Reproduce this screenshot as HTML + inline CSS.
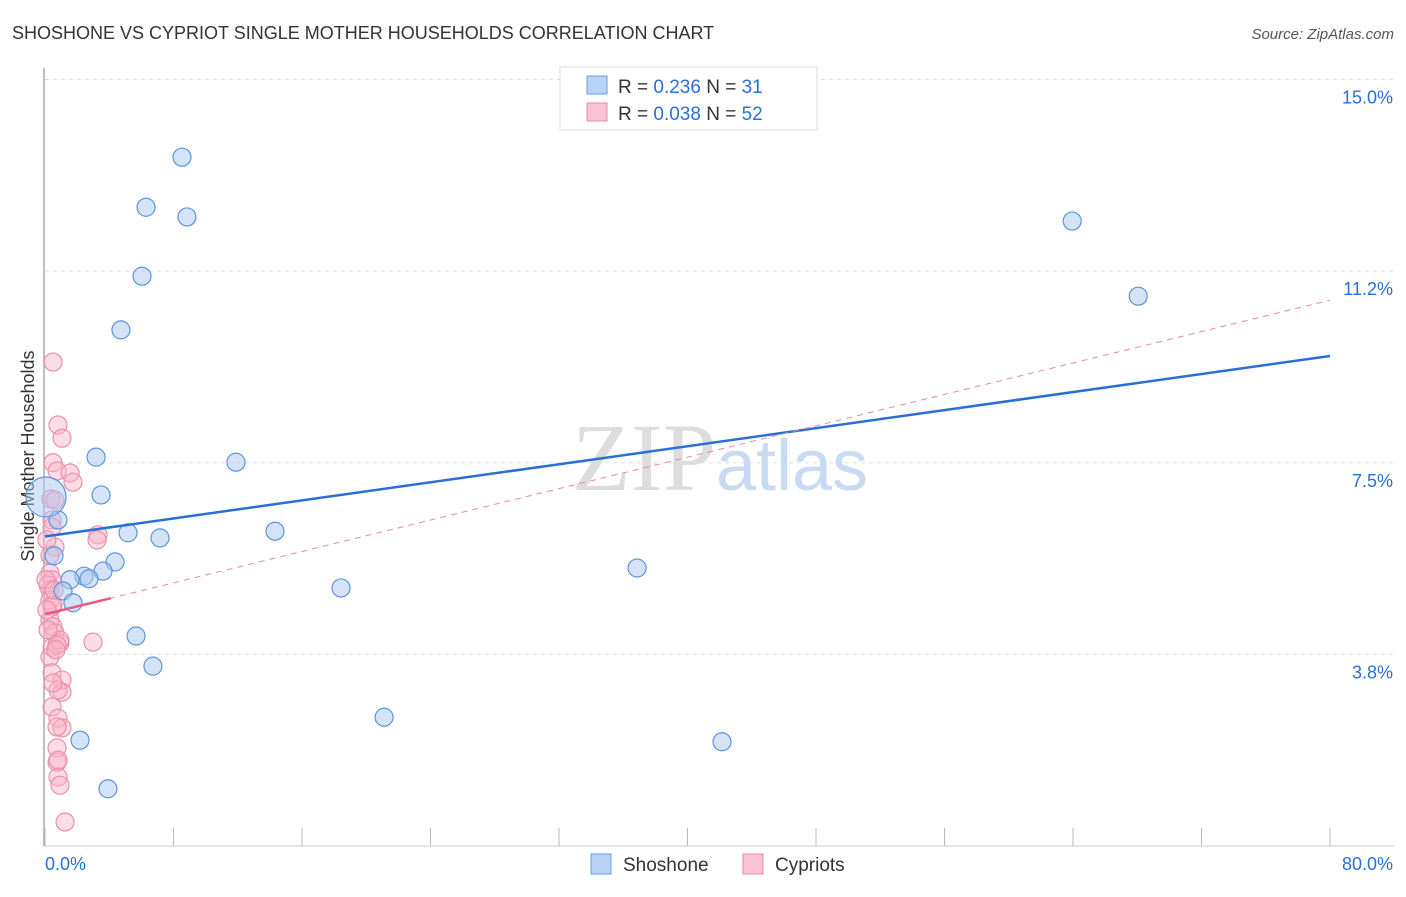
<!DOCTYPE html>
<html><head><meta charset="utf-8"><style>
body{margin:0;background:#fff;font-family:"Liberation Sans",sans-serif;}
</style></head><body>
<svg width="1406" height="892" xmlns="http://www.w3.org/2000/svg">
<text x="12" y="39" font-size="18" fill="#333">SHOSHONE VS CYPRIOT SINGLE MOTHER HOUSEHOLDS CORRELATION CHART</text>
<text x="1394" y="39" font-size="15" fill="#555" font-style="italic" text-anchor="end">Source: ZipAtlas.com</text>
<g id="grid"></g>
<g id="yticks"></g>
<g id="xticks"></g>
<text x="720" y="490" font-size="96" fill="#ddd" text-anchor="middle" font-family="Liberation Serif,serif">ZIP<tspan fill="#c9daf2" font-family="Liberation Sans,sans-serif" font-size="72">atlas</tspan></text>
<text transform="translate(34,456) rotate(-90)" font-size="18" fill="#333" text-anchor="middle">Single Mother Households</text>
<g id="pink"></g>
<g id="blue"></g>
<g id="trends"></g>
<g>
<rect x="560" y="67" width="257" height="63" fill="#fff" stroke="#ddd"/>
<rect x="587" y="76" width="20" height="18" fill="#b8d3f5" stroke="#6a9ee0"/>
<text x="618" y="93" font-size="19" fill="#333">R = <tspan fill="#2a6fd6">0.236</tspan>   N = <tspan fill="#2a6fd6">31</tspan></text>
<rect x="587" y="103" width="20" height="18" fill="#f8c3d2" stroke="#e88aa6"/>
<text x="618" y="120" font-size="19" fill="#333">R = <tspan fill="#2a6fd6">0.038</tspan>   N = <tspan fill="#2a6fd6">52</tspan></text>
</g>
<g>
<rect x="591" y="854" width="20" height="20" fill="#b8d3f5" stroke="#6a9ee0"/>
<text x="623" y="871" font-size="19" fill="#333">Shoshone</text>
<rect x="743" y="854" width="20" height="20" fill="#f8c3d2" stroke="#e88aa6"/>
<text x="775" y="871" font-size="19" fill="#333">Cypriots</text>
</g>
</svg>
<script>
const yTickValues=[3.75,7.5,11.25,15];
const yTickLabels=["3.8%","7.5%","11.2%","15.0%"];
const xTickLabels=["0.0%","80.0%"];
const shoshoneX=[8.53,6.29,8.84,6.04,4.73,3.18,11.89,3.49,0.81,5.17,7.16,14.32,0.56,4.36,3.61,2.43,2.74,1.56,18.43,1.12,1.74,5.67,6.72,21.11,2.18,3.92,36.86,42.15,63.95,68.06,0.06];
const shoshoneY=[13.48,12.5,12.31,11.15,10.1,7.61,7.51,6.87,6.38,6.13,6.03,6.16,5.68,5.56,5.38,5.28,5.23,5.21,5.05,4.99,4.76,4.11,3.52,2.52,2.07,1.12,5.44,2.04,12.23,10.76,6.83];
const cyprX=[0.5,0.81,1.06,0.5,0.75,1.56,1.74,0.37,0.44,0.44,0.62,3.3,3.24,0.31,0.44,0.31,0.31,0.44,0.31,0.5,0.62,0.93,0.44,0.31,2.99,0.44,1.06,1.06,0.44,0.81,1.06,0.75,0.75,0.81,0.93,1.25,0.93,0.75,0.81,0.5,0.75,0.81,0.5,0.19,0.31,0.06,0.12,0.19,0.62,0.12,0.56,0.68];
const cyprY=[9.47,8.24,7.98,7.5,7.34,7.3,7.12,6.79,6.38,6.24,5.85,6.09,5.99,5.34,5.21,5.01,4.81,4.68,4.42,4.29,4.17,3.97,3.89,3.7,3.99,3.39,3.25,3.01,2.72,2.5,2.31,1.92,1.64,1.35,1.19,0.47,4.03,3.93,3.05,3.19,2.33,1.68,4.72,5.11,5.69,5.21,4.62,4.23,6.77,5.99,5.01,3.84];
const NS="http://www.w3.org/2000/svg";
const X=v=>45+v/80*1285, Y=v=>846-v*51.1;
function mk(t,a,p){const e=document.createElementNS(NS,t);for(const k in a)e.setAttribute(k,a[k]);p.appendChild(e);return e;}
const grid=document.getElementById('grid');
yTickValues.forEach((v,i)=>{
 const l=mk('line',{x1:45,x2:1394,y1:Y(v),y2:Y(v),stroke:'#ddd','stroke-dasharray':'4,4'},grid);
 
 
 const t=mk('text',{x:1393,y:Y(v)+24,'font-size':18,fill:'#2a6fd6','text-anchor':'end'},document.getElementById('yticks'));
 t.textContent=yTickLabels[i];
 
 
});
const top15=mk('line',{x1:45,x2:1394,y1:Y(15),y2:Y(15),stroke:'#ddd','stroke-dasharray':'4,4'},grid);
mk('line',{x1:44,x2:44,y1:68,y2:846,stroke:'#aaa','stroke-width':1.5},grid);
mk('line',{x1:44,x2:1394,y1:846,y2:846,stroke:'#ccc'},grid);
const xt=document.getElementById('xticks');
for(let i=0;i<=10;i++){const l=mk('line',{x1:X(i*8),x2:X(i*8),y1:828,y2:846,stroke:'#bbb'},xt);
 
 }
let t0=mk('text',{x:45,y:870,'font-size':18,fill:'#2a6fd6'},xt);t0.textContent=xTickLabels[0];


let t1=mk('text',{x:1393,y:870,'font-size':18,fill:'#2a6fd6','text-anchor':'end'},xt);t1.textContent=xTickLabels[1];


function pts(xs,ys,g,fill,stroke,name){xs.forEach((x,i)=>{const r=(name==='shoshone-point'&&i===xs.length-1)?20:9;
 const c=mk('circle',{cx:X(x),cy:Y(ys[i]),r:r,fill:fill,stroke:stroke,'stroke-width':1.2},g);
 
 });}
pts(cyprX,cyprY,document.getElementById('pink'),'rgba(248,180,200,0.45)','#eb8fab','cypriots-point');
pts(shoshoneX,shoshoneY,document.getElementById('blue'),'rgba(170,200,240,0.5)','#5b95de','shoshone-point');
function fit(xs,ys){const n=xs.length;let mx=0,my=0;xs.forEach((x,i)=>{mx+=x;my+=ys[i];});mx/=n;my/=n;let sxy=0,sxx=0;xs.forEach((x,i)=>{sxy+=(x-mx)*(ys[i]-my);sxx+=(x-mx)**2;});const b=sxy/sxx;return [my-b*mx,b];}
const tr=document.getElementById('trends');
const [ab,bb]=fit(shoshoneX,shoshoneY);
const bl=mk('line',{x1:X(0),y1:Y(ab),x2:X(80),y2:Y(ab+bb*80),stroke:'#2a6fd6','stroke-width':2.5},tr);


const [ap,bp]=fit(cyprX,cyprY);
const pd=mk('line',{x1:X(0),y1:Y(ap),x2:X(80),y2:Y(ap+bp*80),stroke:'#e88aa6','stroke-width':1,'stroke-dasharray':'6,5'},tr);


const maxc=Math.max(...cyprX);
const ps=mk('line',{x1:X(0),y1:Y(ap),x2:X(maxc+0.8),y2:Y(ap+bp*(maxc+0.8)),stroke:'#e55a85','stroke-width':2.5},tr);


</script>
</body></html>
